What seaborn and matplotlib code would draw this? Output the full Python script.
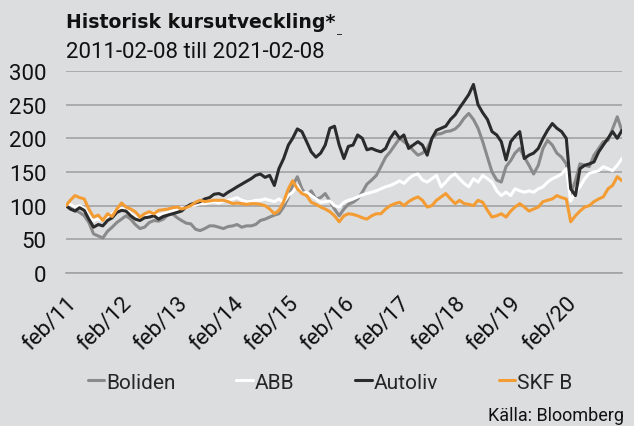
import pandas as pd
import matplotlib
matplotlib.use('Agg')
import matplotlib.pyplot as plt
import seaborn as sns

# månadsvärden, indexerat till 100 vid start
start = pd.Timestamp('2011-02-08')
datum = [start + pd.DateOffset(months=i) for i in range(121)]

boliden = [100, 97, 93, 90, 85, 75, 58, 55, 52, 62, 68, 75, 80, 85, 80, 72, 66, 68, 75, 78,
           77, 80, 86, 88, 82, 78, 74, 73, 65, 63, 66, 70, 70, 68, 66, 69, 70, 72, 68, 70,
           70, 72, 78, 80, 83, 86, 88, 98, 112, 130, 143, 125, 115, 122, 110, 112, 118, 107, 95, 85,
           95, 102, 105, 110, 120, 132, 138, 145, 158, 172, 180, 190, 200, 195, 190, 182, 175, 178, 185, 200,
           206, 207, 210, 211, 214, 220, 230, 237, 228, 215, 195, 172, 150, 138, 135, 158, 167, 178, 185, 172,
           160, 147, 160, 185, 197, 190, 178, 172, 162, 118, 137, 162, 160, 158, 175, 185, 195, 197, 214, 232,
           211]
abb = [100, 102, 98, 100, 96, 85, 78, 80, 78, 85, 88, 94, 96, 95, 88, 84, 82, 85, 88, 90,
       86, 88, 90, 92, 95, 97, 96, 100, 101, 103, 103, 105, 106, 104, 107, 108, 110, 112, 108, 106,
       106, 108, 108, 110, 108, 106, 110, 105, 115, 120, 130, 118, 120, 115, 110, 105, 106, 107, 100, 98,
       105, 108, 110, 113, 116, 118, 120, 122, 125, 128, 130, 133, 137, 133, 140, 145, 147, 138, 135, 140,
       145, 128, 135, 143, 147, 140, 133, 128, 140, 135, 145, 140, 135, 122, 115, 120, 115, 125, 122, 120,
       122, 120, 125, 128, 135, 140, 143, 147, 155, 107, 120, 128, 140, 148, 150, 152, 158, 155, 152, 160,
       170]
autoliv = [100, 95, 92, 97, 93, 80, 68, 72, 70, 78, 82, 90, 93, 92, 85, 80, 78, 82, 83, 85,
           80, 84, 86, 88, 90, 92, 98, 102, 104, 106, 110, 112, 117, 118, 115, 120, 124, 128, 132, 136,
           140, 145, 147, 142, 145, 130, 155, 170, 190, 200, 214, 210, 195, 180, 172, 178, 190, 215, 218, 190,
           170, 188, 190, 205, 200, 183, 185, 182, 180, 185, 200, 210, 200, 205, 185, 190, 195, 190, 175, 200,
           212, 215, 218, 228, 235, 245, 255, 265, 280, 250, 238, 228, 210, 205, 195, 168, 195, 203, 210, 170,
           175, 178, 185, 200, 212, 222, 215, 210, 200, 125, 115, 155, 160, 162, 165, 180, 190, 200, 210, 200,
           212]
skf = [100, 108, 115, 112, 110, 95, 83, 86, 78, 88, 84, 95, 104, 98, 95, 91, 83, 88, 91, 88,
       93, 94, 95, 97, 98, 95, 97, 100, 105, 108, 106, 107, 108, 108, 108, 106, 103, 104, 103, 102,
       103, 103, 102, 100, 95, 88, 93, 106, 125, 137, 125, 118, 115, 105, 102, 98, 95, 91, 85, 76,
       85, 88, 87, 85, 82, 80, 85, 88, 88, 95, 100, 103, 105, 100, 106, 110, 113, 108, 98, 100,
       108, 113, 118, 110, 103, 108, 103, 102, 100, 108, 105, 93, 83, 85, 88, 83, 92, 98, 103, 98,
       92, 95, 98, 106, 108, 110, 115, 112, 110, 76, 85, 92, 98, 100, 106, 110, 113, 125, 130, 143,
       137]

namn = ['Boliden', 'ABB', 'Autoliv', 'SKF B']
farger = ['#8a8a8a', '#ffffff', '#2b2b2b', '#f39c33']
ar_ticks = [pd.Timestamp(f'{y}-02-08') for y in range(2011, 2021)]
ar_labels = [f'feb/{y % 100}' for y in range(2011, 2021)]

df = pd.DataFrame({'datum': datum * 4,
                   'varde': boliden + abb + autoliv + skf,
                   'aktie': sum([[n] * len(datum) for n in namn], [])})

bg = '#dcdddf'
sns.set_style('white')
plt.rcParams['font.family'] = ['Roboto', 'DejaVu Sans']

fig = plt.figure(figsize=(6.34, 4.27), dpi=100)
fig.patch.set_facecolor(bg)
ax = fig.add_axes([66 / 634, 153 / 427, 556 / 634, 202 / 427])
ax.set_facecolor(bg)

sns.lineplot(data=df, x='datum', y='varde', hue='aktie', hue_order=namn,
             palette=dict(zip(namn, farger)), linewidth=2.2, ax=ax)

ax.set_xlim(start, pd.Timestamp('2021-02-08'))
ax.set_ylim(0, 300)
ax.set_yticks(range(0, 301, 50))
ax.set_xticks(ar_ticks)
ax.set_xticklabels(ar_labels, rotation=45, ha='right', rotation_mode='anchor')
ax.set_xlabel('')
ax.set_ylabel('')
ax.yaxis.grid(True, color='#a3a3a3', linewidth=1.2)
ax.set_axisbelow(True)
for s in ['top', 'right', 'left']:
    ax.spines[s].set_visible(False)
ax.spines['bottom'].set_color('#a3a3a3')
ax.spines['bottom'].set_linewidth(1.2)
ax.tick_params(axis='y', length=0, pad=14, labelsize=16, labelcolor='#111111')
ax.tick_params(axis='x', length=6, width=1, color='#a3a3a3', pad=8, labelsize=16, labelcolor='#111111')

sns.move_legend(ax, 'center', bbox_to_anchor=(0.475, -0.54), ncol=4, frameon=False,
                title=None, fontsize=15, handlelength=0.8, handletextpad=0.1,
                columnspacing=2.9)

fig.text(66 / 634, 1 - 22 / 427, 'Historisk kursutveckling*', fontsize=13.6,
         fontweight='bold', color='#111111', va='center',
         family=['DejaVu Sans'])
fig.text(337 / 634, 1 - 31 / 427, '_', fontsize=8, color='#111111', va='center')
fig.text(66 / 634, 1 - 52 / 427, '2011-02-08 till 2021-02-08', fontsize=16,
         color='#111111', va='center')
fig.text(624 / 634, 1 - 416 / 427, 'Källa: Bloomberg', fontsize=13,
         color='#111111', ha='right', va='center')

fig.savefig('out.png', dpi=100, facecolor=bg)
